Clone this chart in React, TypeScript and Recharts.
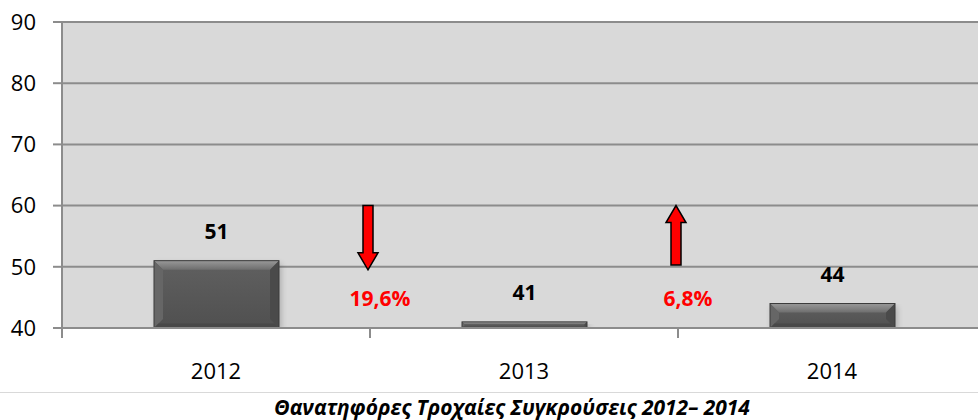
import React from 'react';
import {
  BarChart,
  Bar,
  XAxis,
  YAxis,
  CartesianGrid,
  LabelList,
  ReferenceArea,
} from 'recharts';

const years = ['2012', '2013', '2014'];
const fatalities = [51, 41, 44];
const yTicks = [40, 50, 60, 70, 80, 90];

// change between consecutive years (text as shown on the slide)
const changeLabels = ['19,6%', '6,8%'];
const changeDirections = ['down', 'up'];

const data = years.map((year, i) => ({ year, value: fatalities[i] }));

const FONT = '"Open Sans", "Noto Sans", sans-serif';

const BevelBar = (props: any) => {
  const { x, y, width: w, height: h } = props;
  if (!h || h <= 0) return null;
  const b = Math.min(9, h / 2.5);
  return (
    <g>
      <rect x={x + 2} y={y + 3} width={w} height={h} fill="#000" opacity={0.22} filter="url(#barShadow)" />
      <rect x={x} y={y} width={w} height={h} fill="url(#barBody)" />
      <polygon points={`${x},${y} ${x + w},${y} ${x + w - b},${y + b} ${x + b},${y + b}`} fill="url(#barTop)" />
      <polygon points={`${x},${y} ${x + b},${y + b} ${x + b},${y + h - b} ${x},${y + h}`} fill="#666" />
      <polygon points={`${x + w},${y} ${x + w},${y + h} ${x + w - b},${y + h - b} ${x + w - b},${y + b}`} fill="#4a4a4a" />
      <polygon points={`${x},${y + h} ${x + b / 2},${y + h - b / 2} ${x + w - b / 2},${y + h - b / 2} ${x + w},${y + h}`} fill="#484848" />
      <rect x={x} y={y} width={w} height={h} fill="none" stroke="#3a3a3a" strokeWidth={1} />
    </g>
  );
};

// the area spans from the start of one year's band to the end of the next,
// so its horizontal middle is the boundary between the two years
const makeArrow = (dir: string) => (props: any) => {
  const { x, y, width: w, height: h } = props;
  const cx = x + w / 2 - 2;
  const sw = 5;
  const head = 17;
  const hw = 10;
  let pts: number[][];
  if (dir === 'down') {
    const tip = y + h;
    pts = [
      [cx - sw, y], [cx + sw, y], [cx + sw, tip - head], [cx + hw, tip - head],
      [cx, tip], [cx - hw, tip - head], [cx - sw, tip - head],
    ];
  } else {
    const bottom = y + h;
    pts = [
      [cx - sw, bottom], [cx + sw, bottom], [cx + sw, y + head], [cx + hw, y + head],
      [cx, y], [cx - hw, y + head], [cx - sw, y + head],
    ];
  }
  return (
    <polygon
      points={pts.map((p) => p.join(',')).join(' ')}
      fill="#ff0000"
      stroke="#000"
      strokeWidth={1.5}
    />
  );
};

const makeChangeText = (label: string) => (props: any) => (
  <text
    x={props.x + props.width / 2 + 10}
    y={props.y + props.height / 2}
    textAnchor="middle"
    dominantBaseline="central"
    fill="#ff0000"
    fontWeight="bold"
    fontSize={21}
    fontFamily={FONT}
  >
    {label}
  </text>
);

const XTick = (props: any) => {
  const { x, y, payload } = props;
  const off = payload && typeof payload.offset === 'number' ? payload.offset : 154;
  return (
    <g>
      <line x1={x - off} x2={x - off} y1={y} y2={y + 10} stroke="#8c8c8c" strokeWidth={2} />
      <text x={x} y={y + 42} textAnchor="middle" dominantBaseline="central" fill="#000" fontSize={22} fontFamily={FONT}>
        {payload.value}
      </text>
    </g>
  );
};

export default function App() {
  return (
    <div style={{ position: 'fixed', left: 0, top: 0, width: 978, height: 420, overflow: 'hidden', background: '#fff' }}>
      <BarChart
        width={990}
        height={394}
        data={data}
        margin={{ top: 22, right: 4, left: 0, bottom: 0 }}
        barSize={125}
      >
        <defs>
          <linearGradient id="barBody" x1="0" y1="0" x2="0" y2="1">
            <stop offset="0%" stopColor="#606060" />
            <stop offset="100%" stopColor="#505050" />
          </linearGradient>
          <linearGradient id="barTop" x1="0" y1="0" x2="0" y2="1">
            <stop offset="0%" stopColor="#999" />
            <stop offset="100%" stopColor="#6e6e6e" />
          </linearGradient>
          <filter id="barShadow" x="-10%" y="-10%" width="120%" height="140%">
            <feGaussianBlur stdDeviation="3" />
          </filter>
        </defs>
        <CartesianGrid vertical={false} fill="#d9d9d9" stroke="#8c8c8c" strokeWidth={2} />
        <XAxis
          dataKey="year"
          height={66}
          axisLine={{ stroke: '#8c8c8c', strokeWidth: 2 }}
          tickLine={false}
          tickSize={0}
          tickMargin={0}
          tick={<XTick />}
        />
        <YAxis
          width={62}
          domain={[40, 90]}
          ticks={yTicks}
          allowDataOverflow
          axisLine={{ stroke: '#8c8c8c', strokeWidth: 2 }}
          tickLine={{ stroke: '#8c8c8c', strokeWidth: 2 }}
          tickSize={9}
          tickMargin={17}
          tick={{ fill: '#000', fontSize: 22, fontFamily: FONT }}
        />
        <Bar dataKey="value" shape={<BevelBar />} isAnimationActive={false}>
          <LabelList
            dataKey="value"
            position="top"
            offset={22}
            fill="#000"
            fontWeight="bold"
            fontSize={21}
            fontFamily={FONT}
          />
        </Bar>
        {changeDirections.map((dir, i) => (
          <ReferenceArea
            key={`arrow-${i}`}
            x1={years[i]}
            x2={years[i + 1]}
            y1={dir === 'down' ? 49.5 : 50.3}
            y2={60}
            ifOverflow="visible"
            shape={makeArrow(dir)}
          />
        ))}
        {changeLabels.map((label, i) => (
          <ReferenceArea
            key={`chg-${i}`}
            x1={years[i]}
            x2={years[i + 1]}
            y1={44}
            y2={45.8}
            ifOverflow="visible"
            shape={makeChangeText(label)}
          />
        ))}
      </BarChart>
      <div style={{ position: 'absolute', left: 0, top: 392, width: 978, height: 1, background: '#d9d9d9' }} />
      <div
        style={{
          position: 'absolute',
          left: 0,
          top: 395,
          width: 1024,
          textAlign: 'center',
          fontFamily: FONT,
          fontWeight: 'bold',
          fontStyle: 'italic',
          fontSize: 21,
          lineHeight: '24px',
          color: '#000',
        }}
      >
        Θανατηφόρες Τροχαίες Συγκρούσεις 2012– 2014
      </div>
    </div>
  );
}
